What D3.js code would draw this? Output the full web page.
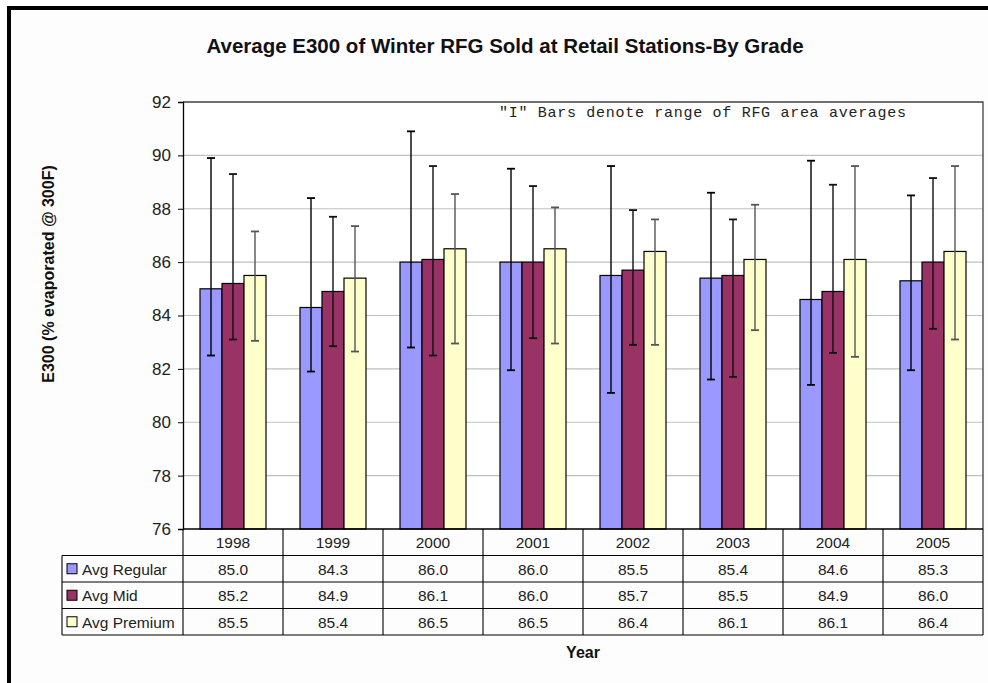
<!DOCTYPE html>
<meta charset="utf-8">
<head>
  <title>Average E300 of Winter RFG</title>
</head>
<style>
body {
  margin: 0;
  background: #fff;
  font-family: Arial, "Liberation Sans", sans-serif;
}
</style>
<body>
<script src="https://d3js.org/d3.v7.min.js"></script>
<script>

// data
var years = ["1998", "1999", "2000", "2001", "2002", "2003", "2004", "2005"];
var seriesNames = ["Avg Regular", "Avg Mid", "Avg Premium"];
var regular = [85.0, 84.3, 86.0, 86.0, 85.5, 85.4, 84.6, 85.3];
var mid = [85.2, 84.9, 86.1, 86.0, 85.7, 85.5, 84.9, 86.0];
var premium = [85.5, 85.4, 86.5, 86.5, 86.4, 86.1, 86.1, 86.4];
// "I" bars: range of RFG area averages
var regularHigh = [89.9, 88.4, 90.9, 89.5, 89.6, 88.6, 89.8, 88.5];
var regularLow = [82.5, 81.9, 82.8, 81.95, 81.1, 81.6, 81.4, 81.95];
var midHigh = [89.3, 87.7, 89.6, 88.85, 87.95, 87.6, 88.9, 89.15];
var midLow = [83.1, 82.85, 82.5, 83.15, 82.9, 81.7, 82.6, 83.5];
var premHigh = [87.15, 87.35, 88.55, 88.05, 87.6, 88.15, 89.6, 89.6];
var premLow = [83.05, 82.65, 82.95, 82.95, 82.9, 83.45, 82.45, 83.1];
var yTicks = [76, 78, 80, 82, 84, 86, 88, 90, 92];

var colors = ["#9999ff", "#993366", "#ffffcc"];
var errColors = ["#000", "#111", "#555"];

var values = [regular, mid, premium];
var highs = [regularHigh, midHigh, premHigh];
var lows = [regularLow, midLow, premLow];

var w = 988, h = 683;
var plot = {left: 183, right: 983, top: 102, bottom: 529};
var rowH = 26.5;
var legendLeft = 62;

var svg = d3.select("body").append("svg")
  .attr("width", w)
  .attr("height", h);

// outer chart frame (only top and left edges visible)
svg.append("rect")
  .attr("x", 9).attr("y", 8)
  .attr("width", w + 20).attr("height", h + 20)
  .attr("fill", "#fdfdfd")
  .attr("stroke", "#000")
  .attr("stroke-width", 4);

var x = d3.scaleBand()
  .domain(years)
  .range([plot.left, plot.right])
  .paddingInner(0.34)
  .paddingOuter(0.17);

var xs = d3.scaleBand()
  .domain(d3.range(3))
  .range([0, x.bandwidth()]);

var y = d3.scaleLinear()
  .domain([76, 92])
  .range([plot.bottom, plot.top]);

svg.append("rect")
  .attr("x", plot.left).attr("y", plot.top)
  .attr("width", plot.right - plot.left)
  .attr("height", plot.bottom - plot.top)
  .attr("fill", "#fff");

// gridlines
svg.append("g")
  .selectAll("line")
  .data(yTicks.slice(1, -1))
  .enter().append("line")
  .attr("x1", plot.left).attr("x2", plot.right)
  .attr("y1", function(d) { return y(d); })
  .attr("y2", function(d) { return y(d); })
  .attr("stroke", "#c0c0c0")
  .attr("stroke-width", 1.2);

// plot border top/right
svg.append("path")
  .attr("d", "M" + plot.left + "," + y(92) + "H" + plot.right + "V" + plot.bottom)
  .attr("fill", "none")
  .attr("stroke", "#404040")
  .attr("stroke-width", 1.3);

// y axis
var yAxis = svg.append("g")
  .attr("transform", "translate(" + plot.left + ",0)")
  .call(d3.axisLeft(y).tickValues(yTicks).tickSize(5).tickPadding(7).tickFormat(d3.format("d")));
yAxis.select(".domain").attr("stroke", "#000").attr("stroke-width", 1.3);
yAxis.selectAll(".tick line").attr("stroke", "#000");
yAxis.selectAll("text")
  .attr("font-size", "17px")
  .attr("font-family", "Arial, 'Liberation Sans', sans-serif")
  .attr("fill", "#222");

// bars
var groups = svg.append("g").selectAll("g")
  .data(years)
  .enter().append("g")
  .attr("transform", function(d) { return "translate(" + x(d) + ",0)"; });

groups.selectAll("rect")
  .data(function(d, i) { return d3.range(3).map(function(s) { return {s: s, v: values[s][i]}; }); })
  .enter().append("rect")
  .attr("x", function(d) { return xs(d.s); })
  .attr("width", xs.bandwidth())
  .attr("y", function(d) { return y(d.v); })
  .attr("height", function(d) { return y(76) - y(d.v); })
  .attr("fill", function(d) { return colors[d.s]; })
  .attr("stroke", "#000")
  .attr("stroke-width", 1.2);

// error bars
var err = groups.selectAll("g.err")
  .data(function(d, i) {
    return d3.range(3).map(function(s) { return {s: s, hi: highs[s][i], lo: lows[s][i]}; });
  })
  .enter().append("g")
  .attr("class", "err")
  .attr("stroke", function(d) { return errColors[d.s]; })
  .attr("stroke-width", 1.4);

err.append("line")
  .attr("x1", function(d) { return xs(d.s) + xs.bandwidth() / 2; })
  .attr("x2", function(d) { return xs(d.s) + xs.bandwidth() / 2; })
  .attr("y1", function(d) { return y(d.hi); })
  .attr("y2", function(d) { return y(d.lo); });
err.append("line")
  .attr("x1", function(d) { return xs(d.s) + xs.bandwidth() / 2 - 4; })
  .attr("x2", function(d) { return xs(d.s) + xs.bandwidth() / 2 + 4; })
  .attr("y1", function(d) { return y(d.hi); })
  .attr("y2", function(d) { return y(d.hi); })
  .attr("stroke-width", 1.8);
err.append("line")
  .attr("x1", function(d) { return xs(d.s) + xs.bandwidth() / 2 - 4; })
  .attr("x2", function(d) { return xs(d.s) + xs.bandwidth() / 2 + 4; })
  .attr("y1", function(d) { return y(d.lo); })
  .attr("y2", function(d) { return y(d.lo); })
  .attr("stroke-width", 1.8);

// data table
var table = svg.append("g");
var half = (x.step() - x.bandwidth()) / 2;
var tableBottom = plot.bottom + rowH * 4;

// horizontal lines
table.append("line")
  .attr("x1", plot.left).attr("x2", plot.right)
  .attr("y1", plot.bottom).attr("y2", plot.bottom)
  .attr("stroke", "#000").attr("stroke-width", 1.3);
d3.range(1, 5).forEach(function(r) {
  table.append("line")
    .attr("x1", legendLeft).attr("x2", plot.right)
    .attr("y1", plot.bottom + rowH * r).attr("y2", plot.bottom + rowH * r)
    .attr("stroke", "#000").attr("stroke-width", 1.1);
});
// vertical lines
table.append("line")
  .attr("x1", legendLeft).attr("x2", legendLeft)
  .attr("y1", plot.bottom + rowH).attr("y2", tableBottom)
  .attr("stroke", "#000").attr("stroke-width", 1.1);
table.selectAll("line.col")
  .data(years.concat(["end"]))
  .enter().append("line")
  .attr("class", "col")
  .attr("x1", function(d) { return d === "end" ? plot.right : x(d) - half; })
  .attr("x2", function(d) { return d === "end" ? plot.right : x(d) - half; })
  .attr("y1", plot.bottom)
  .attr("y2", tableBottom)
  .attr("stroke", "#000").attr("stroke-width", 1.1);

// year headers
table.selectAll("text.year")
  .data(years)
  .enter().append("text")
  .attr("class", "year")
  .attr("x", function(d) { return x(d) + x.bandwidth() / 2; })
  .attr("y", plot.bottom + rowH / 2 + 6)
  .attr("text-anchor", "middle")
  .attr("font-size", "15.5px")
  .attr("fill", "#222")
  .text(function(d) { return d; });

// value rows
values.forEach(function(vals, s) {
  var ry = plot.bottom + rowH * (s + 1);
  table.selectAll("text.v" + s)
    .data(vals)
    .enter().append("text")
    .attr("class", "v" + s)
    .attr("x", function(d, i) { return x(years[i]) + x.bandwidth() / 2; })
    .attr("y", ry + rowH / 2 + 6)
    .attr("text-anchor", "middle")
    .attr("font-size", "15.5px")
    .attr("fill", "#222")
    .text(function(d) { return d3.format(".1f")(d); });

  table.append("rect")
    .attr("x", legendLeft + 5).attr("y", ry + rowH / 2 - 5)
    .attr("width", 10).attr("height", 10)
    .attr("fill", colors[s])
    .attr("stroke", "#000").attr("stroke-width", 1);
  table.append("text")
    .attr("x", legendLeft + 20)
    .attr("y", ry + rowH / 2 + 6)
    .attr("font-size", "15.5px")
    .attr("fill", "#222")
    .text(seriesNames[s]);
});

// titles
svg.append("text")
  .attr("x", 505).attr("y", 53)
  .attr("text-anchor", "middle")
  .attr("font-size", "20.5px")
  .attr("font-weight", "bold")
  .attr("fill", "#111")
  .text("Average E300 of Winter RFG Sold at Retail Stations-By Grade");

svg.append("text")
  .attr("transform", "translate(54,274) rotate(-90)")
  .attr("text-anchor", "middle")
  .attr("font-size", "16px")
  .attr("font-weight", "bold")
  .attr("fill", "#111")
  .text("E300 (% evaporated @ 300F)");

svg.append("text")
  .attr("x", 583).attr("y", 658)
  .attr("text-anchor", "middle")
  .attr("font-size", "16px")
  .attr("font-weight", "bold")
  .attr("fill", "#111")
  .text("Year");

svg.append("text")
  .attr("x", 499).attr("y", 117)
  .attr("font-family", "'Courier New', 'Liberation Mono', monospace")
  .attr("font-size", "15px")
  .attr("textLength", 407)
  .attr("lengthAdjust", "spacing")
  .attr("fill", "#222")
  .text("\"I\" Bars denote range of RFG area averages");

</script>
</body>
</html>
